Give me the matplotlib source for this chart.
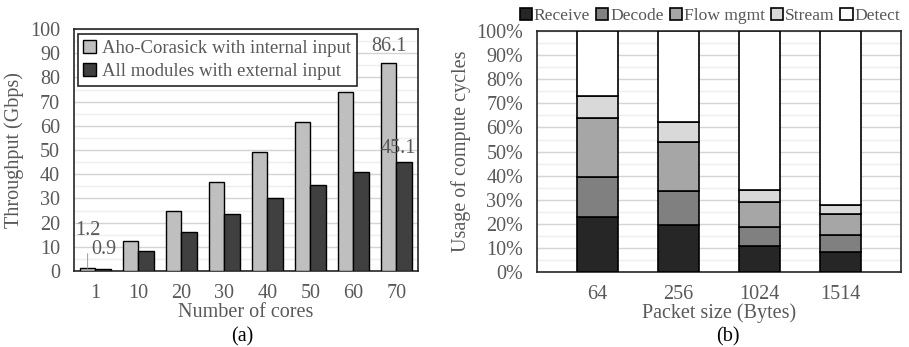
import matplotlib
matplotlib.use("Agg")
import matplotlib.pyplot as plt
import numpy as np

plt.rcParams['font.family'] = ['Liberation Serif', 'DejaVu Serif']

# (a) throughput vs. number of cores
cores = ['1', '10', '20', '30', '40', '50', '60', '70']
aho_internal = [1.2, 12.4, 24.7, 36.9, 49.2, 61.4, 73.8, 86.1]
all_external = [0.9, 8.4, 16.0, 23.5, 30.1, 35.6, 40.9, 45.1]

# (b) breakdown of compute cycles per packet size
packet_sizes = ['64', '256', '1024', '1514']
stages = ['Receive', 'Decode', 'Flow mgmt', 'Stream', 'Detect']
receive = [23.0, 19.5, 10.7, 8.3]
decode = [16.4, 14.0, 8.0, 6.9]
flow_mgmt = [24.4, 20.3, 10.3, 8.7]
stream = [9.4, 8.3, 4.9, 3.9]
detect = [26.8, 37.9, 66.1, 72.2]

TXT = '#595959'
FRAME = '#262626'
stage_colors = ['#262626', '#808080', '#a6a6a6', '#d9d9d9', '#ffffff']
FS = 14.5

fig = plt.figure(figsize=(9.09, 3.47), dpi=100)
ax1 = fig.add_axes([0.0814, 0.219, 0.3784, 0.6974])
ax2 = fig.add_axes([0.5908, 0.216, 0.4004, 0.6945])


def style_axis(ax):
    for s in ax.spines.values():
        s.set_color(FRAME)
        s.set_linewidth(1.2)
    ax.tick_params(axis='y', length=0, labelsize=FS, colors=TXT, pad=10)
    ax.tick_params(axis='x', length=0, labelsize=FS, colors=TXT, pad=9)
    ax.tick_params(which='minor', length=0)
    ax.grid(axis='y', which='major', color='#d4d4d4', linewidth=1.0, zorder=0)
    ax.grid(axis='y', which='minor', color='#eeeeee', linewidth=1.0, zorder=0)
    ax.set_axisbelow(True)


# ---- left panel ----
x = np.arange(len(cores))
w = 0.37
ax1.bar(x - w / 2, aho_internal, w, color='#bfbfbf', edgecolor='black',
        linewidth=1.0, zorder=3, label='Aho-Corasick with internal input')
ax1.bar(x + w / 2, all_external, w, color='#404040', edgecolor='black',
        linewidth=1.0, zorder=3, label='All modules with external input')
ax1.set_xlim(-0.5, len(cores) - 0.5)
ax1.set_ylim(0, 100)
ax1.set_yticks(np.arange(0, 101, 10))
ax1.set_yticks(np.arange(5, 100, 10), minor=True)
ax1.set_xticks(x)
ax1.set_xticklabels(cores)
style_axis(ax1)
ax1.set_ylabel('Throughput (Gbps)', fontsize=FS, color=TXT, labelpad=4)
ax1.set_xlabel('Number of cores', fontsize=FS, color=TXT, labelpad=0)

# value labels
ax1.annotate(f'{aho_internal[0]}', xy=(x[0] - w / 2, aho_internal[0]),
             xytext=(x[0] - w / 2, 16.8), ha='center', va='center',
             fontsize=FS, color=TXT,
             arrowprops=dict(arrowstyle='-', color='#a6a6a6', lw=0.8,
                             shrinkA=8, shrinkB=0))
ax1.text(x[0] + w / 2, 8.7, f'{all_external[0]}', ha='center',
         va='center', fontsize=FS, color=TXT)
ax1.text(x[-1] - w / 2, 92.8, f'{aho_internal[-1]}',
         ha='center', va='center', fontsize=FS, color=TXT)
ax1.text(x[-1] + 0.05, 50.7, f'{all_external[-1]}',
         ha='center', va='center', fontsize=FS, color=TXT)

leg1 = ax1.legend(loc='upper left', bbox_to_anchor=(0.0, 0.995), fontsize=13.5,
                  handlelength=0.7, handleheight=0.7, handletextpad=0.3,
                  borderpad=0.3, labelspacing=0.35, fancybox=False,
                  framealpha=1, labelcolor=TXT, borderaxespad=0.2)
leg1.get_frame().set_edgecolor(FRAME)
leg1.get_frame().set_linewidth(1.2)

fig.text(0.267, 0.028, '(a)', ha='center', va='center', fontsize=FS,
         color='black')

# ---- right panel ----
xp = np.arange(len(packet_sizes))
stacks = [receive, decode, flow_mgmt, stream, detect]
bottom = np.zeros(len(packet_sizes))
for name, vals, col in zip(stages, stacks, stage_colors):
    ax2.bar(xp, vals, 0.5, bottom=bottom, color=col, edgecolor='black',
            linewidth=1.2, zorder=3, label=name)
    bottom += np.array(vals)
ax2.set_xlim(-0.75, len(packet_sizes) - 0.25)
ax2.set_ylim(0, 100)
ax2.set_yticks(np.arange(0, 101, 10))
ax2.set_yticklabels([f'{v}%' for v in range(0, 101, 10)])
ax2.set_yticks(np.arange(5, 100, 10), minor=True)
ax2.set_xticks(xp)
ax2.set_xticklabels(packet_sizes)
style_axis(ax2)
ax2.set_ylabel('Usage of compute cycles', fontsize=FS, color=TXT, labelpad=4)
ax2.set_xlabel('Packet size (Bytes)', fontsize=FS, color=TXT, labelpad=0)

ax2.legend(loc='lower center', bbox_to_anchor=(0.475, 0.985), ncol=5,
           fontsize=12.6, handlelength=0.7, handleheight=0.7,
           handletextpad=0.1, columnspacing=0.35, frameon=False,
           borderpad=0.1, labelcolor=TXT)

fig.text(0.801, 0.028, '(b)', ha='center', va='center', fontsize=FS,
         color='black')

fig.savefig('out.png', dpi=100)
